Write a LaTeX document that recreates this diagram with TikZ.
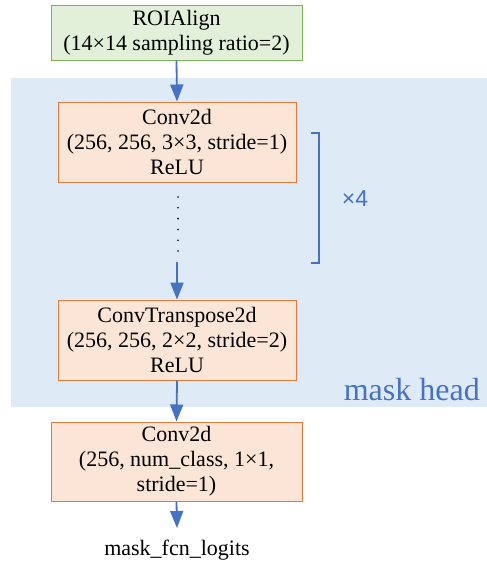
\documentclass[tikz,border=0pt]{standalone}
\usepackage{fontspec}
\setmainfont{Liberation Serif}
\newfontfamily\countfont{Liberation Sans}
\usetikzlibrary{arrows.meta,calc}
\definecolor{headbg}{HTML}{DEEAF6}
\definecolor{headblue}{HTML}{4472C4}
\definecolor{roifill}{HTML}{E2F0D9}
\definecolor{roiedge}{HTML}{7DB356}
\definecolor{convfill}{HTML}{FBE5D6}
\definecolor{convedge}{HTML}{E07B39}
\tikzset{
  txt/.style={font=\fontsize{22}{25}\selectfont, align=center, inner sep=0pt},
  roibox/.style={txt, draw=roiedge, fill=roifill, line width=1pt},
  convbox/.style={txt, draw=convedge, fill=convfill, line width=1pt},
  flow/.style={draw=headblue, line width=1.8pt, -{Triangle[length=17pt,width=13pt]}},
}
\begin{document}
\begin{tikzpicture}[x=1pt,y=-1pt]
\useasboundingbox (0,0) rectangle (487,565);
% mask head background
\fill[headbg] (11,78) rectangle (487,407);
\node[txt, anchor=east, text=headblue, font=\fontsize{32}{34}\selectfont] (headlabel) at (480,390) {mask head};

% layers
\node[roibox, minimum width=251pt, minimum height=55pt] (roi) at (176.5,32.5)
  {ROIAlign\\(14×14 sampling ratio=2)};
\node[convbox, minimum width=238pt, minimum height=80pt] (conva) at (177,142)
  {Conv2d\\(256, 256, 3×3, stride=1)\\ReLU};
\node[convbox, minimum width=238pt, minimum height=80pt] (convt) at (177,340)
  {ConvTranspose2d\\(256, 256, 2×2, stride=2)\\ReLU};
\node[convbox, minimum width=251pt, minimum height=79pt] (convb) at (176.5,461.5)
  {Conv2d\\(256, num\_class, 1×1,\\stride=1)};
\node[txt] (logits) at (177,550) {mask\_fcn\_logits};
\coordinate (logitsin) at (177,528);

% repeated block: dots, bracket and count
\coordinate (dottop) at (178,197);
\coordinate (dotbot) at (178,251);
\coordinate (rep) at (177,262);
\foreach \i in {0,...,5}
  \fill ($(dottop)!\i/5!(dotbot)$) circle (0.9pt);
\draw[headblue, line width=1.2pt] (311,133) -- (319,133) -- (319,263) -- (311,263);
\node[inner sep=0pt, text=headblue, font=\countfont\fontsize{23}{25}\selectfont] (times) at (355,199) {×4};

% connectors
\draw[flow] (roi.south) -- (conva.north);
\draw[flow] (rep) -- (convt.north);
\draw[flow] (convt.south) -- (convb.north);
\draw[flow] (convb.south) -- (logitsin);
\end{tikzpicture}
\end{document}
